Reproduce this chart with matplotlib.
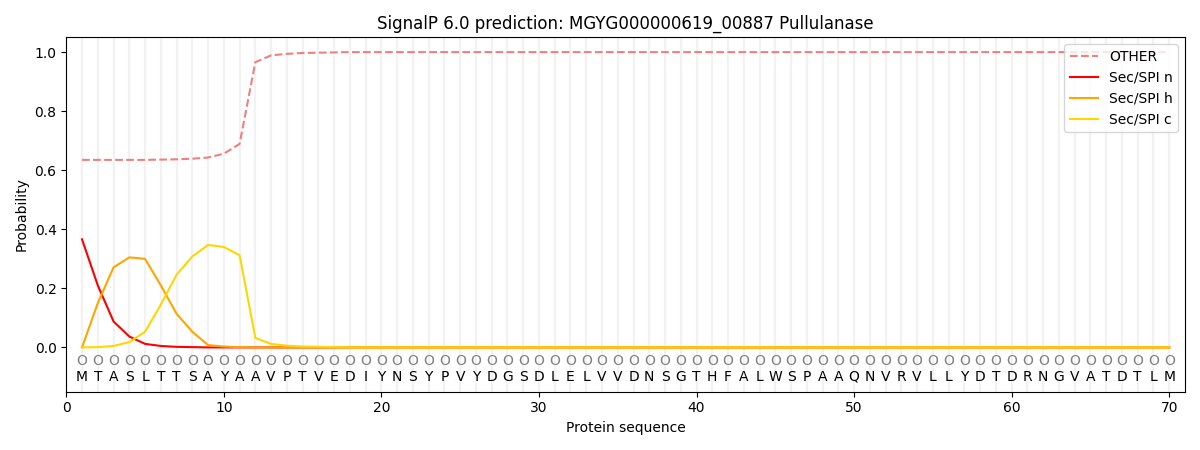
import matplotlib
matplotlib.use("Agg")
import matplotlib.pyplot as plt
import numpy as np

sequence = "MTASLTTSAYAAVPTVEDIYNSYPVYDGSDLELVVDNSGTHFALWSPAAQNVRVLLYDTDRNGVATDTLM"
labels = ["O"] * 70

other = [0.635, 0.635, 0.635, 0.635, 0.635, 0.636, 0.637, 0.639, 0.643, 0.656,
         0.689, 0.966, 0.989, 0.994, 0.997, 0.998, 0.999] + [1.0] * 53
sec_n = [0.366, 0.21, 0.088, 0.037, 0.012, 0.005, 0.002, 0.001] + [0.0] * 62
sec_h = [0.0, 0.15, 0.271, 0.305, 0.300, 0.210, 0.114, 0.053, 0.008, 0.003,
         0.001] + [0.0] * 59
sec_c = [0.0, 0.001, 0.005, 0.018, 0.053, 0.145, 0.246, 0.308, 0.347, 0.340,
         0.312, 0.032, 0.012, 0.006, 0.003, 0.002, 0.001] + [0.0] * 53

pos = np.arange(1, len(sequence) + 1)

fig, ax = plt.subplots(figsize=(12, 4.5), dpi=100)

# faint per-residue guide lines
for p in pos:
    ax.axvline(p, color="#f2f2f2", linewidth=1.6, zorder=0)

ax.plot(pos, other, "--", color="lightcoral", label="OTHER")
ax.plot(pos, sec_n, color="red", label="Sec/SPI n")
ax.plot(pos, sec_h, color="orange", label="Sec/SPI h")
ax.plot(pos, sec_c, color="gold", label="Sec/SPI c")

for p, aa, lab in zip(pos, sequence, labels):
    ax.text(p, -0.045, lab, ha="center", va="center", fontsize=10, color="gray")
    ax.text(p, -0.1, aa, ha="center", va="center", fontsize=10)

ax.set_xlim(0, 71)
ax.set_ylim(-0.15, 1.05)
ax.set_xlabel("Protein sequence")
ax.set_ylabel("Probability")
ax.set_title("SignalP 6.0 prediction: MGYG000000619_00887 Pullulanase")
ax.legend(loc="upper right")

fig.tight_layout()
fig.savefig("out.png")
